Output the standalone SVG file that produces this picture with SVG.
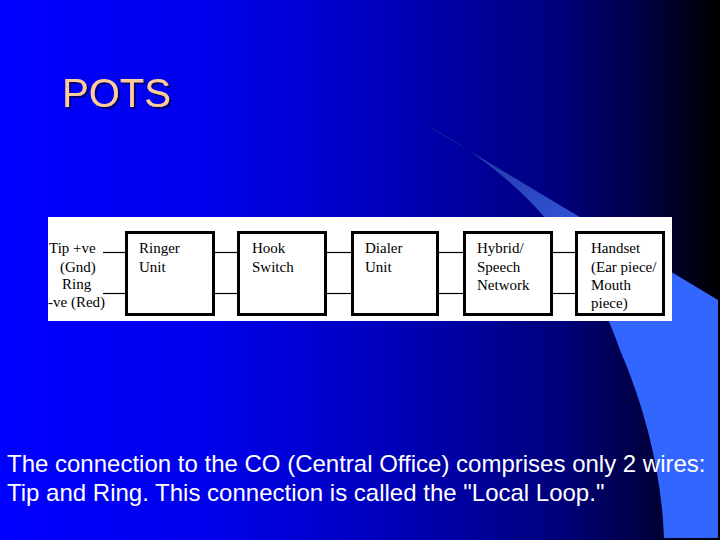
<svg xmlns="http://www.w3.org/2000/svg" width="720" height="540" viewBox="0 0 720 540">
<defs>
<linearGradient id="bg" x1="0" y1="0" x2="720" y2="0" gradientUnits="userSpaceOnUse">
<stop offset="0" stop-color="#0000ff"/>
<stop offset="0.3" stop-color="#0000ea"/>
<stop offset="0.55" stop-color="#0000b8"/>
<stop offset="0.78" stop-color="#00007a"/>
<stop offset="0.9" stop-color="#000040"/>
<stop offset="1" stop-color="#000000"/>
</linearGradient>
<linearGradient id="sw" x1="423" y1="123" x2="680" y2="420" gradientUnits="userSpaceOnUse">
<stop offset="0" stop-color="#1c2c8c"/>
<stop offset="0.4" stop-color="#3050d0"/>
<stop offset="0.7" stop-color="#3366ff"/>
<stop offset="1" stop-color="#3366ff"/>
</linearGradient>
<filter id="shadow" x="-10%" y="-20%" width="130%" height="150%">
<feDropShadow dx="2" dy="2" stdDeviation="0.6" flood-color="#000060" flood-opacity="0.9"/>
</filter>
<style>
.box{fill:#ffffff;stroke:#000000;stroke-width:3}
.wire{stroke:#000000;stroke-width:1.2;fill:none}
.lbl{font-family:"Liberation Serif","Times New Roman",serif;font-size:15px;fill:#000000}
.body{font-family:"Liberation Sans",Arial,sans-serif;font-size:24px;fill:#ffffff}
.title{font-family:"Liberation Sans",Arial,sans-serif;font-size:40px;fill:#ffcc99}
</style>
</defs>
<rect x="0" y="0" width="720" height="540" fill="url(#bg)"/>
<path d="M423,123 L718,300 L718,538 L664,538 C662,480 648,415 620,350 C592,270 540,185 423,123 Z" fill="url(#sw)"/>
<text class="title" x="62" y="107" filter="url(#shadow)">POTS</text>
<rect x="48" y="217" width="624" height="104" fill="#ffffff"/>
<g id="connectors">
<line class="wire" x1="103" y1="252.5" x2="125" y2="252.5"/>
<line class="wire" x1="103" y1="293.5" x2="125" y2="293.5"/>
<line class="wire" x1="215" y1="252.5" x2="237" y2="252.5"/>
<line class="wire" x1="215" y1="293.5" x2="237" y2="293.5"/>
<line class="wire" x1="327" y1="252.5" x2="351" y2="252.5"/>
<line class="wire" x1="327" y1="293.5" x2="351" y2="293.5"/>
<line class="wire" x1="439" y1="252.5" x2="463" y2="252.5"/>
<line class="wire" x1="439" y1="293.5" x2="463" y2="293.5"/>
<line class="wire" x1="553" y1="252.5" x2="575" y2="252.5"/>
<line class="wire" x1="553" y1="293.5" x2="575" y2="293.5"/>
</g>
<g id="line-labels">
<text class="lbl" x="49" y="253">Tip +ve</text>
<text class="lbl" x="60" y="272">(Gnd)</text>
<text class="lbl" x="62" y="289">Ring</text>
<text class="lbl" x="48" y="307">-ve (Red)</text>
</g>
<g id="ringer">
<rect class="box" x="126.5" y="232.5" width="87" height="82"/>
<text class="lbl" x="139" y="253">Ringer</text>
<text class="lbl" x="139" y="272">Unit</text>
</g>
<g id="hook">
<rect class="box" x="238.5" y="232.5" width="87" height="82"/>
<text class="lbl" x="252" y="253">Hook</text>
<text class="lbl" x="252" y="272">Switch</text>
</g>
<g id="dialer">
<rect class="box" x="352.5" y="232.5" width="85" height="82"/>
<text class="lbl" x="365" y="253">Dialer</text>
<text class="lbl" x="365" y="272">Unit</text>
</g>
<g id="hybrid">
<rect class="box" x="464.5" y="232.5" width="87" height="82"/>
<text class="lbl" x="477" y="253">Hybrid/</text>
<text class="lbl" x="477" y="272">Speech</text>
<text class="lbl" x="477" y="290">Network</text>
</g>
<g id="handset">
<rect class="box" x="576.5" y="232.5" width="87" height="82"/>
<text class="lbl" x="591" y="253">Handset</text>
<text class="lbl" x="591" y="272">(Ear piece/</text>
<text class="lbl" x="591" y="290">Mouth</text>
<text class="lbl" x="591" y="308">piece)</text>
</g>
<text class="body" x="7" y="472">The connection to the CO (Central Office) comprises only 2 wires:</text>
<text class="body" x="7" y="501">Tip and Ring. This connection is called the "Local Loop."</text>
</svg>
